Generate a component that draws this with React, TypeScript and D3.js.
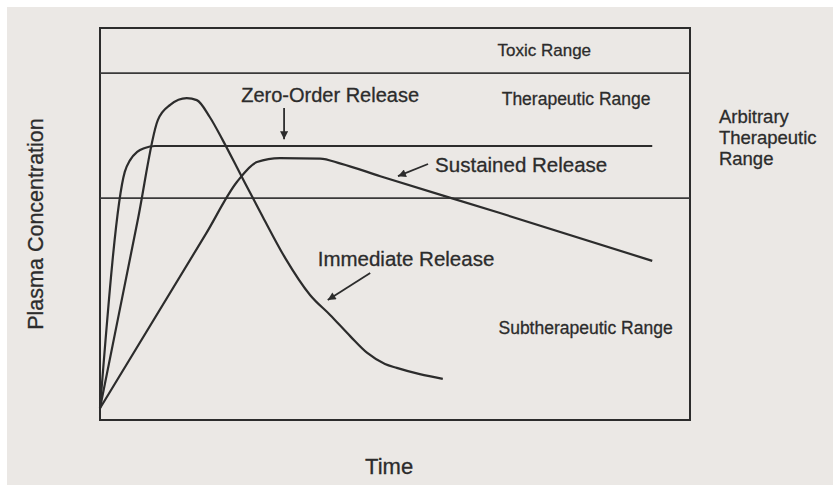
import { select, scaleLinear, line, curveMonotoneX } from "d3";
import React, { useEffect, useRef } from "react";

// 즉시 방출 (immediate release)
const irTime = [0, 6.4, 9.8, 11.9, 14.7, 16.4, 18.6, 20.8, 23.7, 27.6, 31.4, 35.6, 39, 42.4, 45.3, 48.3, 50.3, 54.2, 58.1];
const irConc = [3, 51, 76.5, 80.4, 82.1, 81.6, 77.3, 71.4, 63, 51.8, 41.3, 31.9, 26.8, 21.4, 17.1, 14.3, 13.3, 11.7, 10.5];

// 0차 방출 (zero-order release)
const zoTime = [0, 4.2, 5.1, 6.3, 7.6, 9.3, 93.6];
const zoConc = [3, 63.3, 66.3, 68.4, 69.4, 69.9, 69.9];

// 서방형 (sustained release)
const srTime = [0, 18, 23.2, 26.6, 30.5, 37.3, 40.8, 47.5, 67.8, 93.6];
const srConc = [3, 47.6, 60.7, 65.8, 66.8, 66.7, 65.4, 62.2, 52.8, 40.6];

// 범위 경계 (toxic / therapeutic / subtherapeutic)
const rangeLimits = [88.5, 56.6];
const rangeNames = ["Toxic Range", "Therapeutic Range", "Subtherapeutic Range"];
const sideLabel = ["Arbitrary", "Therapeutic", "Range"];

type Pt = { t: number; c: number };
const zip = (ts: number[], cs: number[]): Pt[] => ts.map((t, i) => ({ t, c: cs[i] }));

const App = () => {
  const chartRef = useRef<SVGSVGElement>(null);

  useEffect(() => {
    if (!chartRef.current) return;
    const svg = select(chartRef.current);
    svg.selectAll("*").remove();

    const W = 833;
    const H = 485;
    const ink = "#2c2c2c";
    const font = "'Liberation Sans', Arial, sans-serif";

    // 스캔 배경
    svg.append("rect").attr("width", W).attr("height", H).attr("fill", "#ffffff");
    svg.append("rect").attr("x", 7).attr("y", 7).attr("width", W - 7).attr("height", H - 7).attr("fill", "#ebe8e5");

    // 그래프 영역
    const box = { left: 100, right: 690, top: 28, bottom: 420 };
    const x = scaleLinear().domain([0, 100]).range([box.left, box.right]);
    const y = scaleLinear().domain([0, 100]).range([box.bottom, box.top]);

    const defs = svg.append("defs");
    defs
      .append("marker")
      .attr("id", "head")
      .attr("viewBox", "0 0 10 10")
      .attr("refX", 10)
      .attr("refY", 5)
      .attr("markerWidth", 11)
      .attr("markerHeight", 8)
      .attr("markerUnits", "userSpaceOnUse")
      .attr("orient", "auto")
      .append("path")
      .attr("d", "M0,0 L10,5 L0,10 Z")
      .attr("fill", ink);

    const g = svg.append("g");

    g.append("rect")
      .attr("x", x(0))
      .attr("y", y(100))
      .attr("width", x(100) - x(0))
      .attr("height", y(0) - y(100))
      .attr("fill", "none")
      .attr("stroke", ink)
      .attr("stroke-width", 2);

    // 범위 경계선
    g.selectAll(".limit")
      .data(rangeLimits)
      .enter()
      .append("line")
      .attr("class", "limit")
      .attr("x1", x(0))
      .attr("x2", x(100))
      .attr("y1", (d) => y(d))
      .attr("y2", (d) => y(d))
      .attr("stroke", "#3a3a3a")
      .attr("stroke-width", 1.8);

    // 곡선
    const lineGen = line<Pt>()
      .x((d) => x(d.t))
      .y((d) => y(d.c))
      .curve(curveMonotoneX);

    [zip(irTime, irConc), zip(zoTime, zoConc), zip(srTime, srConc)].forEach((pts) => {
      g.append("path")
        .datum(pts)
        .attr("fill", "none")
        .attr("stroke", ink)
        .attr("stroke-width", 2.2)
        .attr("stroke-linejoin", "round")
        .attr("d", lineGen);
    });

    // 화살표
    const arrows = [
      [31.2, 79.6, 31.2, 71.6],
      [55.6, 65.3, 50.5, 62.2],
      [45.8, 37.5, 38.6, 30.6],
    ];
    arrows.forEach(([t1, c1, t2, c2]) => {
      g.append("line")
        .attr("x1", x(t1))
        .attr("y1", y(c1))
        .attr("x2", x(t2))
        .attr("y2", y(c2))
        .attr("stroke", ink)
        .attr("stroke-width", 1.8)
        .attr("marker-end", "url(#head)");
    });

    const label = (text: string, t: number, c: number, size: number, anchor = "middle") =>
      g.append("text")
        .attr("x", x(t))
        .attr("y", y(c))
        .attr("text-anchor", anchor)
        .attr("font-family", font)
        .attr("font-size", size)
        .attr("fill", ink)
        .attr("stroke", ink)
        .attr("stroke-width", 0.3)
        .text(text);

    label(rangeNames[0], 75.3, 92.9, 17);
    label(rangeNames[1], 80.7, 80.4, 17.5);
    label(rangeNames[2], 82.3, 21.9, 17.5);
    label("Zero-Order Release", 39, 81.1, 20);
    label("Sustained Release", 56.8, 63.3, 20.5, "start");
    label("Immediate Release", 36.9, 39.3, 20.5, "start");

    const side = g.append("text")
      .attr("font-family", font)
      .attr("font-size", 18.5)
      .attr("fill", ink)
      .attr("stroke", ink)
      .attr("stroke-width", 0.3);
    sideLabel.forEach((s, i) => {
      side.append("tspan")
        .attr("x", x(104.9))
        .attr("y", y(75.8) + i * 21)
        .text(s);
    });

    // 축 제목
    g.append("text")
      .attr("x", x(49))
      .attr("y", 474)
      .attr("text-anchor", "middle")
      .attr("font-family", font)
      .attr("font-size", 22)
      .attr("fill", ink)
      .attr("stroke", ink)
      .attr("stroke-width", 0.3)
      .text("Time");

    g.append("text")
      .attr("transform", `translate(43,${y(50)}) rotate(-90)`)
      .attr("text-anchor", "middle")
      .attr("font-family", font)
      .attr("font-size", 21.5)
      .attr("fill", ink)
      .attr("stroke", ink)
      .attr("stroke-width", 0.3)
      .text("Plasma Concentration");
  }, []);

  return (
    <React.Fragment>
      <svg
        ref={chartRef}
        width={833}
        height={485}
        style={{ position: "absolute", left: 0, top: 0, display: "block" }}
      ></svg>
    </React.Fragment>
  );
};

export default App;
